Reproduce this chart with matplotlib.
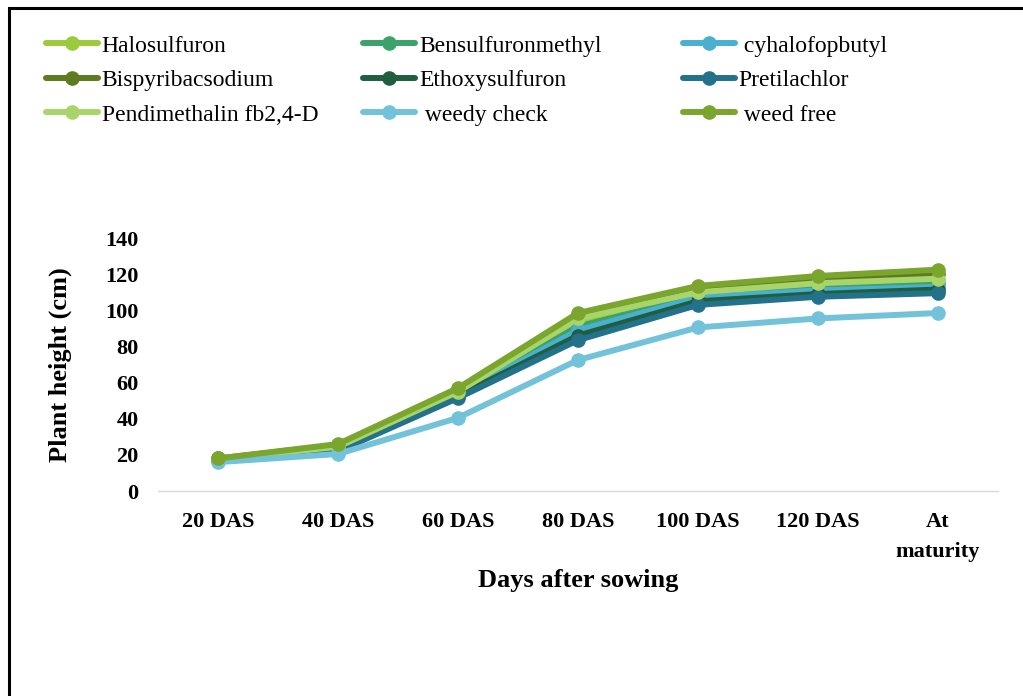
import matplotlib.pyplot as plt
from matplotlib.patches import Rectangle

# data
days = ['20 DAS', '40 DAS', '60 DAS', '80 DAS', '100 DAS', '120 DAS', 'At\nmaturity']
halosulfuron = [17.5, 24, 55, 94, 110, 115, 117]
bensulfuron = [17, 23, 53.5, 91, 108, 112, 114.5]
cyhalofop = [17, 23, 53, 89, 107, 111, 113]
bispyribac = [18, 25.5, 56.5, 96.5, 112, 118, 120]
ethoxysulfuron = [17, 22.5, 52.5, 86, 105, 109, 111.5]
pretilachlor = [16.5, 22, 51.5, 83.5, 103, 107.5, 109.5]
pendimethalin = [17.5, 24.5, 55, 95.5, 110, 115, 117.5]
weedy_check = [16, 20.5, 40.5, 72.5, 90.5, 95.5, 98.5]
weed_free = [18, 26, 57, 98.5, 113.5, 119, 122.5]

series = [
    ('Halosulfuron', halosulfuron, '#9BCB3B'),
    ('Bensulfuronmethyl', bensulfuron, '#3BA36A'),
    (' cyhalofopbutyl', cyhalofop, '#4BB0CF'),
    ('Bispyribacsodium', bispyribac, '#5E7B22'),
    ('Ethoxysulfuron', ethoxysulfuron, '#1F5F40'),
    ('Pretilachlor', pretilachlor, '#23718A'),
    ('Pendimethalin fb2,4-D', pendimethalin, '#A9D46A'),
    (' weedy check', weedy_check, '#72C3DA'),
    (' weed free', weed_free, '#7AA62D'),
]

plt.rcParams['font.family'] = ['Liberation Serif', 'DejaVu Serif']

fig = plt.figure(figsize=(10.23, 6.96), dpi=100)
ax = fig.add_axes([0.1545, 0.2945, 0.821, 0.3635])

x = list(range(len(days)))
handles = []
for name, vals, col in series:
    h, = ax.plot(x, vals, color=col, lw=4.3, marker='o', markersize=9.5,
                 solid_capstyle='round', label=name)
    handles.append(h)

ax.set_xlim(-0.5, len(days) - 0.5)
ax.set_ylim(0, 140)
ax.set_yticks(range(0, 141, 20))
ax.set_xticks(x)
ax.set_xticklabels(days, fontsize=16, fontweight='bold', linespacing=1.65)
ax.tick_params(axis='both', length=0, labelsize=16)
for t in ax.get_yticklabels():
    t.set_fontweight('bold')
ax.tick_params(axis='x', pad=15)
ax.tick_params(axis='y', pad=14)

for s in ['top', 'right', 'left']:
    ax.spines[s].set_visible(False)
ax.spines['bottom'].set_color('#D9D9D9')
ax.spines['bottom'].set_linewidth(1)

ax.set_xlabel('Days after sowing', fontsize=19, fontweight='bold', labelpad=5)
ax.set_ylabel('Plant height (cm)', fontsize=19, fontweight='bold', labelpad=24)

# legend: three columns placed at fixed x, filled row by row as in the original
col_x = [0.036, 0.346, 0.658]
for c in range(3):
    idx = [c, c + 3, c + 6]
    leg = fig.legend([handles[i] for i in idx], [series[i][0] for i in idx],
                     loc='upper left', bbox_to_anchor=(col_x[c], 0.963), ncol=1,
                     frameon=False, fontsize=17, handlelength=2.2, handletextpad=0.15,
                     labelspacing=0.55, borderaxespad=0)

# outer frame
fig.patches.append(Rectangle((0.009, -0.1), 1.2, 1.088, transform=fig.transFigure,
                             fill=False, edgecolor='black', lw=2.2))

fig.savefig('out.png', dpi=100)
